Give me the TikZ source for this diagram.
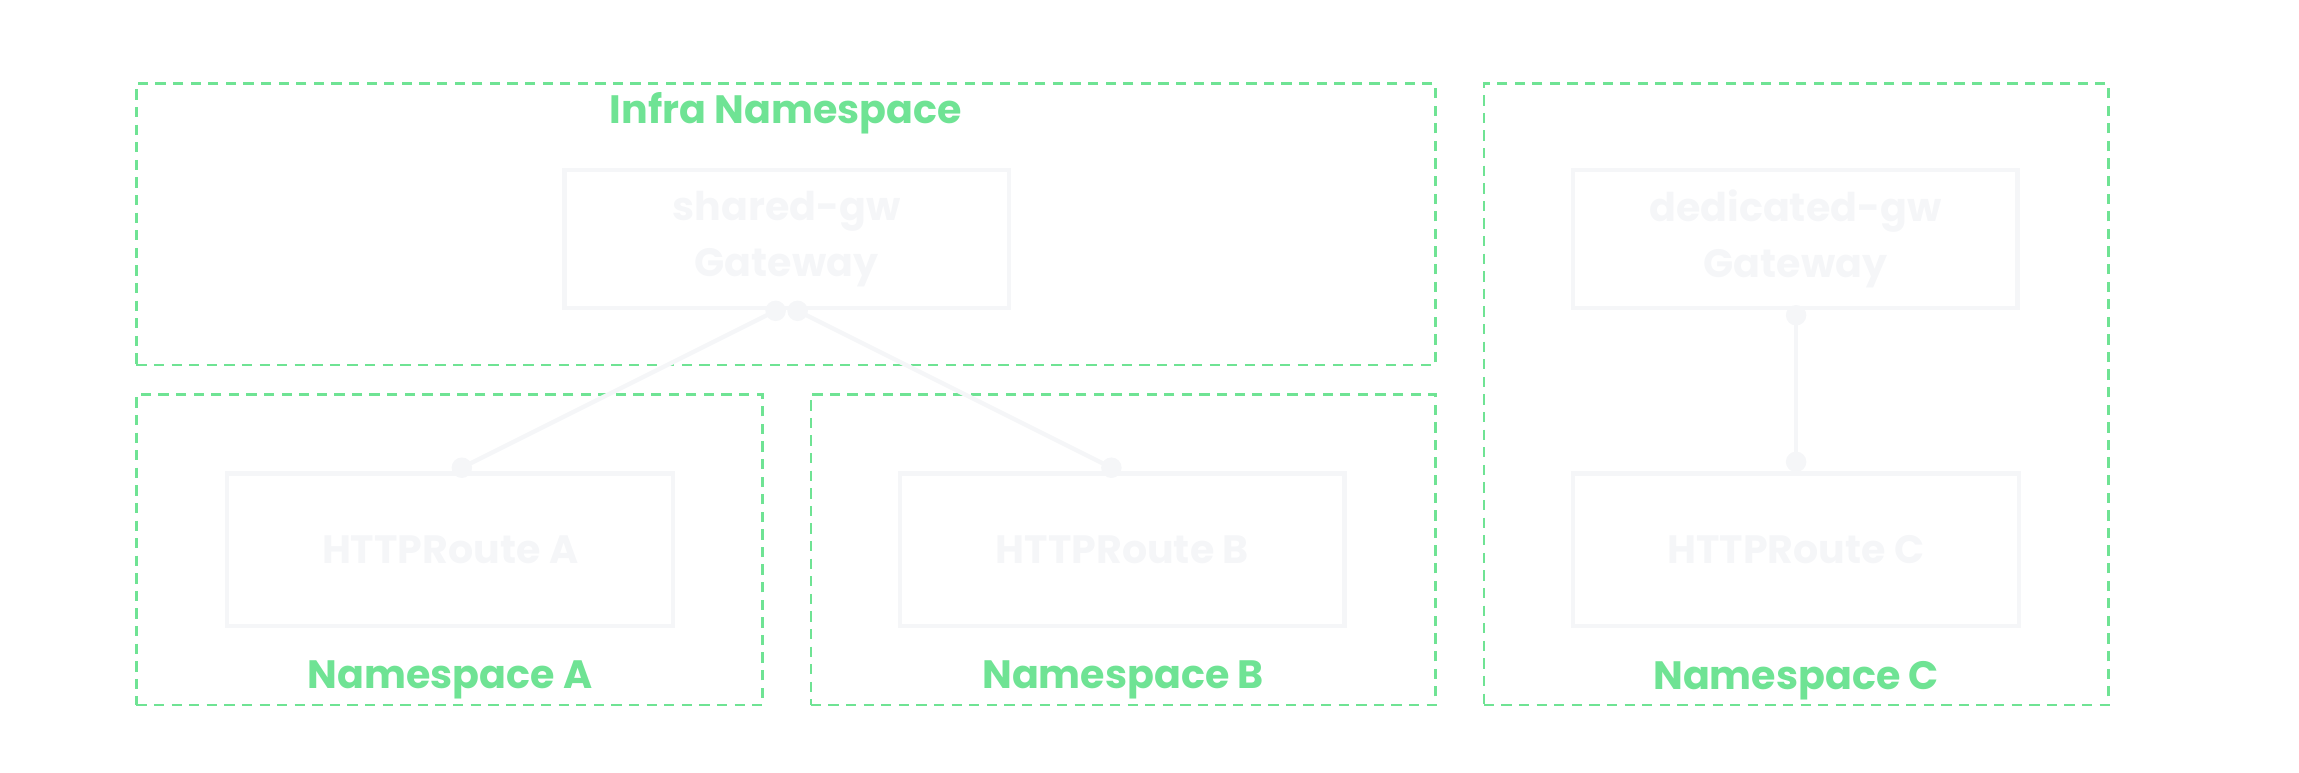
\documentclass[tikz,border=0pt]{standalone}
\usepackage{fontspec}
\setmainfont{Poppins}
\usetikzlibrary{positioning}
\definecolor{nsgreen}{HTML}{6FE394}
\definecolor{objgray}{HTML}{F5F6F8}
\begin{document}
\begin{tikzpicture}[x=1pt,y=-1pt]
\tikzstyle{ns}=[draw=nsgreen, line width=1.6pt, dash pattern=on 7pt off 5pt, inner sep=0pt]
\tikzstyle{nslbl}=[text=nsgreen, font=\fontsize{27}{32}\selectfont\bfseries, inner sep=0pt]
\tikzstyle{obj}=[draw=objgray, line width=3pt, inner sep=0pt, text=objgray, align=center, font=\fontsize{27}{38}\selectfont\bfseries]
\tikzstyle{dot}=[circle, fill=objgray, inner sep=0pt, minimum size=14pt]
\useasboundingbox (0,0) rectangle (1568,527);
% namespaces
\node[ns, minimum width=886pt, minimum height=192pt] (infra) at (536,153){};
\node[ns, minimum width=427pt, minimum height=212pt] (nsa) at (306.5,375){};
\node[ns, minimum width=426pt, minimum height=212pt] (nsb) at (766,375){};
\node[ns, minimum width=426pt, minimum height=424pt] (nsc) at (1225,269){};
\node[nslbl] (infralbl) at (536,77){Infra Namespace};
\node[nslbl] (nsalbl) at (307,464){Namespace A};
\node[nslbl] (nsblbl) at (766,464){Namespace B};
\node[nslbl] (nsclbl) at (1225,464){Namespace C};
% objects
\node[obj, minimum width=303pt, minimum height=94pt] (sgw) at (536.5,163){shared-gw\\Gateway};
\node[obj, minimum width=303pt, minimum height=94pt] (dgw) at (1224.5,163){dedicated-gw\\Gateway};
\node[obj, minimum width=304pt, minimum height=104pt] (ra) at (307,375){HTTPRoute A};
\node[obj, minimum width=303pt, minimum height=104pt] (rb) at (765.5,375){HTTPRoute B};
\node[obj, minimum width=304pt, minimum height=104pt] (rc) at (1225,375){HTTPRoute C};
% connectors
\node[dot] (sa) at (529,212){};
\node[dot] (sb) at (544,212){};
\node[dot] (ea) at (315,319){};
\node[dot] (eb) at (758,319){};
\node[dot] (dc) at (1225,215){};
\node[dot] (ec) at (1225,315){};
\draw[objgray, line width=3pt] (sa.center) -- (ea.center);
\draw[objgray, line width=3pt] (sb.center) -- (eb.center);
\draw[objgray, line width=3pt] (dc.center) -- (ec.center);
\end{tikzpicture}
\end{document}
